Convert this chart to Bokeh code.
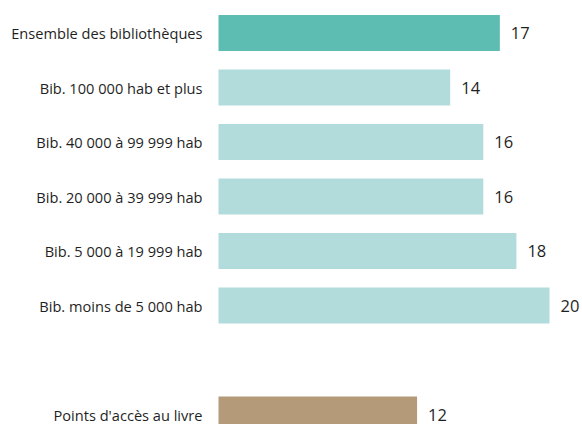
from bokeh.plotting import figure
from bokeh.models import Range1d, ColumnDataSource
from bokeh.core.properties import value
from bokeh.embed import file_html
from bokeh.resources import INLINE

categories = ["Ensemble des bibliothèques", "Bib. 100 000 hab et plus", "Bib. 40 000 à 99 999 hab",
              "Bib. 20 000 à 39 999 hab", "Bib. 5 000 à 19 999 hab", "Bib. moins de 5 000 hab",
              "Points d'accès au livre"]
values = [17, 14, 16, 16, 18, 20, 12]
colors = ["#5EBDB3", "#B1DCDB", "#B1DCDB", "#B1DCDB", "#B1DCDB", "#B1DCDB", "#B59A7A"]

# row positions: a blank slot before the last category
rows = list(range(len(categories) - 1)) + [len(categories)]

W, H = 582, 424
px_per_unit = 16.55
x0_px = 218.0
pitch = 54.5
y0_px = 32.5

x_start = -x0_px / px_per_unit
x_end = (W - x0_px) / px_per_unit
y_top = -y0_px / pitch
y_bot = (H - y0_px) / pitch

p = figure(width=W, height=H, output_backend="svg", toolbar_location=None,
           x_range=Range1d(x_start, x_end), y_range=Range1d(y_bot, y_top),
           min_border=0, outline_line_color=None)
p.axis.visible = False
p.grid.visible = False
p.background_fill_color = "white"
p.border_fill_color = "white"

src = ColumnDataSource(dict(y=rows, v=values, c=colors, cat=categories,
                            lab=[str(v) for v in values], zero=[0] * len(values)))
p.hbar(y="y", left=0, right="v", height=36 / pitch, fill_color="c", line_color=None, source=src)

p.text(x="zero", y="y", text="cat", source=src, x_offset=-16, y_offset=0,
       text_align="right", text_baseline="middle", text_font=value("Open Sans"),
       text_font_size="14.6px", text_color="#1f1f1f")
p.text(x="v", y="y", text="lab", source=src, x_offset=11, y_offset=0,
       text_align="left", text_baseline="middle", text_font=value("Open Sans"),
       text_font_size="16.5px", text_color="#1f1f1f")

open("out.html", "w").write(file_html(p, INLINE))
